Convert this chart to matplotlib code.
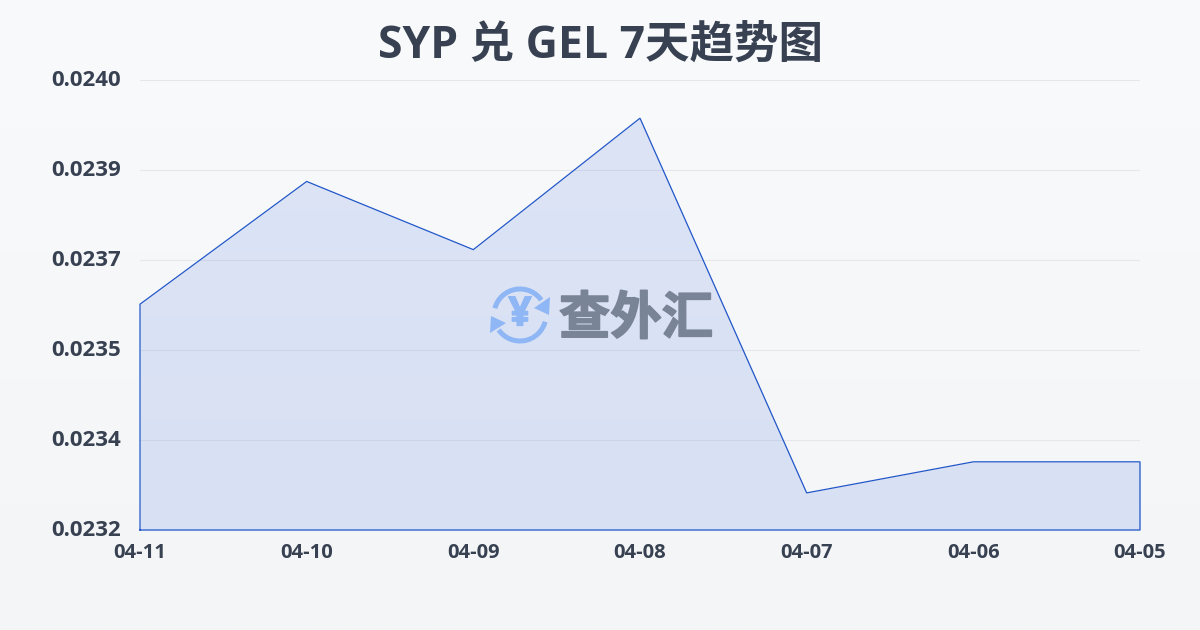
import numpy as np
import matplotlib
matplotlib.use("Agg")
import matplotlib.pyplot as plt
import matplotlib.patheffects as pe
from matplotlib.patches import Arc, Polygon
from matplotlib.transforms import ScaledTranslation

dates = ["04-11", "04-10", "04-09", "04-08", "04-07", "04-06", "04-05"]
rates = [0.023614, 0.023839, 0.023714, 0.023955, 0.023268, 0.023325, 0.023325]
y_ticks = [0.0232, 0.023365, 0.02353, 0.023695, 0.02386, 0.024025]
title = "SYP 兑 GEL 7天趋势图"
watermark = "查外汇"

plt.rcParams["font.family"] = ["Open Sans", "Noto Sans CJK SC", "DejaVu Sans"]
TEXT = "#374151"
W, H = 1200, 630
fig = plt.figure(figsize=(W / 100, H / 100), dpi=100)

bg = fig.add_axes([0, 0, 1, 1], zorder=0)
bg.imshow(np.linspace(0, 1, 256).reshape(-1, 1), aspect="auto", extent=[0, 1, 0, 1],
          cmap=matplotlib.colors.LinearSegmentedColormap.from_list("bg", ["#f9fafc", "#f3f5f7"]))
bg.axis("off")

ax = fig.add_axes([140 / W, 1 - 530 / H, 1000 / W, 450 / H], zorder=1)
ax.patch.set_alpha(0)
x = np.arange(len(dates))
ax.set_xlim(0, len(dates) - 1)
ax.set_ylim(y_ticks[0], y_ticks[-1])
ax.set_yticks(y_ticks, [f"{v:.4f}" for v in y_ticks])
ax.set_xticks(x, dates)
ax.grid(axis="y", color="#e5e7eb", lw=0.8)
ax.set_axisbelow(True)
for s in ax.spines.values():
    s.set_visible(False)
ax.tick_params(axis="both", length=0)
ax.tick_params(axis="y", pad=13.5, labelcolor=TEXT, labelsize=16)
ax.tick_params(axis="x", pad=9, labelcolor=TEXT, labelsize=14.5)
for lab in ax.get_xticklabels() + ax.get_yticklabels():
    lab.set_fontweight("bold")
up = ScaledTranslation(0, 1.5 / 72, fig.dpi_scale_trans)
for lab in ax.get_yticklabels():
    lab.set_transform(lab.get_transform() + up)

ax.fill_between(x, rates, y_ticks[0], color="#1c55d8", alpha=0.125, lw=0, zorder=2)
ax.plot(np.r_[x[0], x, x[-1], x[0]], [y_ticks[0]] + rates + [y_ticks[0]] * 2,
        color="#2257c9", lw=0.9, zorder=3, clip_on=False, solid_joinstyle="miter")

# 水印
wm = fig.add_axes([0, 0, 1, 1], zorder=2)
wm.set_xlim(0, W); wm.set_ylim(H, 0); wm.axis("off")
blue = "#8fb6f5"
cx, cy, r = 520, 315, 26
wm.add_patch(Arc((cx, cy), 2 * r, 2 * r, theta1=195, theta2=325, color=blue, lw=3.6))
wm.add_patch(Arc((cx, cy), 2 * r, 2 * r, theta1=15, theta2=145, color=blue, lw=3.6))
wm.add_patch(Polygon([[550, 297], [549, 315], [534, 308]], color=blue, lw=0))
wm.add_patch(Polygon([[490, 333], [491, 316], [506, 323]], color=blue, lw=0))
wm.text(cx, cy, "¥", color=blue, fontsize=29, fontweight="bold", ha="center", va="center",
        path_effects=[pe.withStroke(linewidth=1, foreground=blue)])
wm.text(636, 321, watermark, color="#7a8497", fontsize=37, fontweight="bold", ha="center", va="center",
        path_effects=[pe.withStroke(linewidth=1.2, foreground="#7a8497")])

fig.text(0.5, 1 - 46 / H, title, color=TEXT, fontsize=32, fontweight="bold", ha="center", va="center")
fig.savefig("out.png", dpi=100)
